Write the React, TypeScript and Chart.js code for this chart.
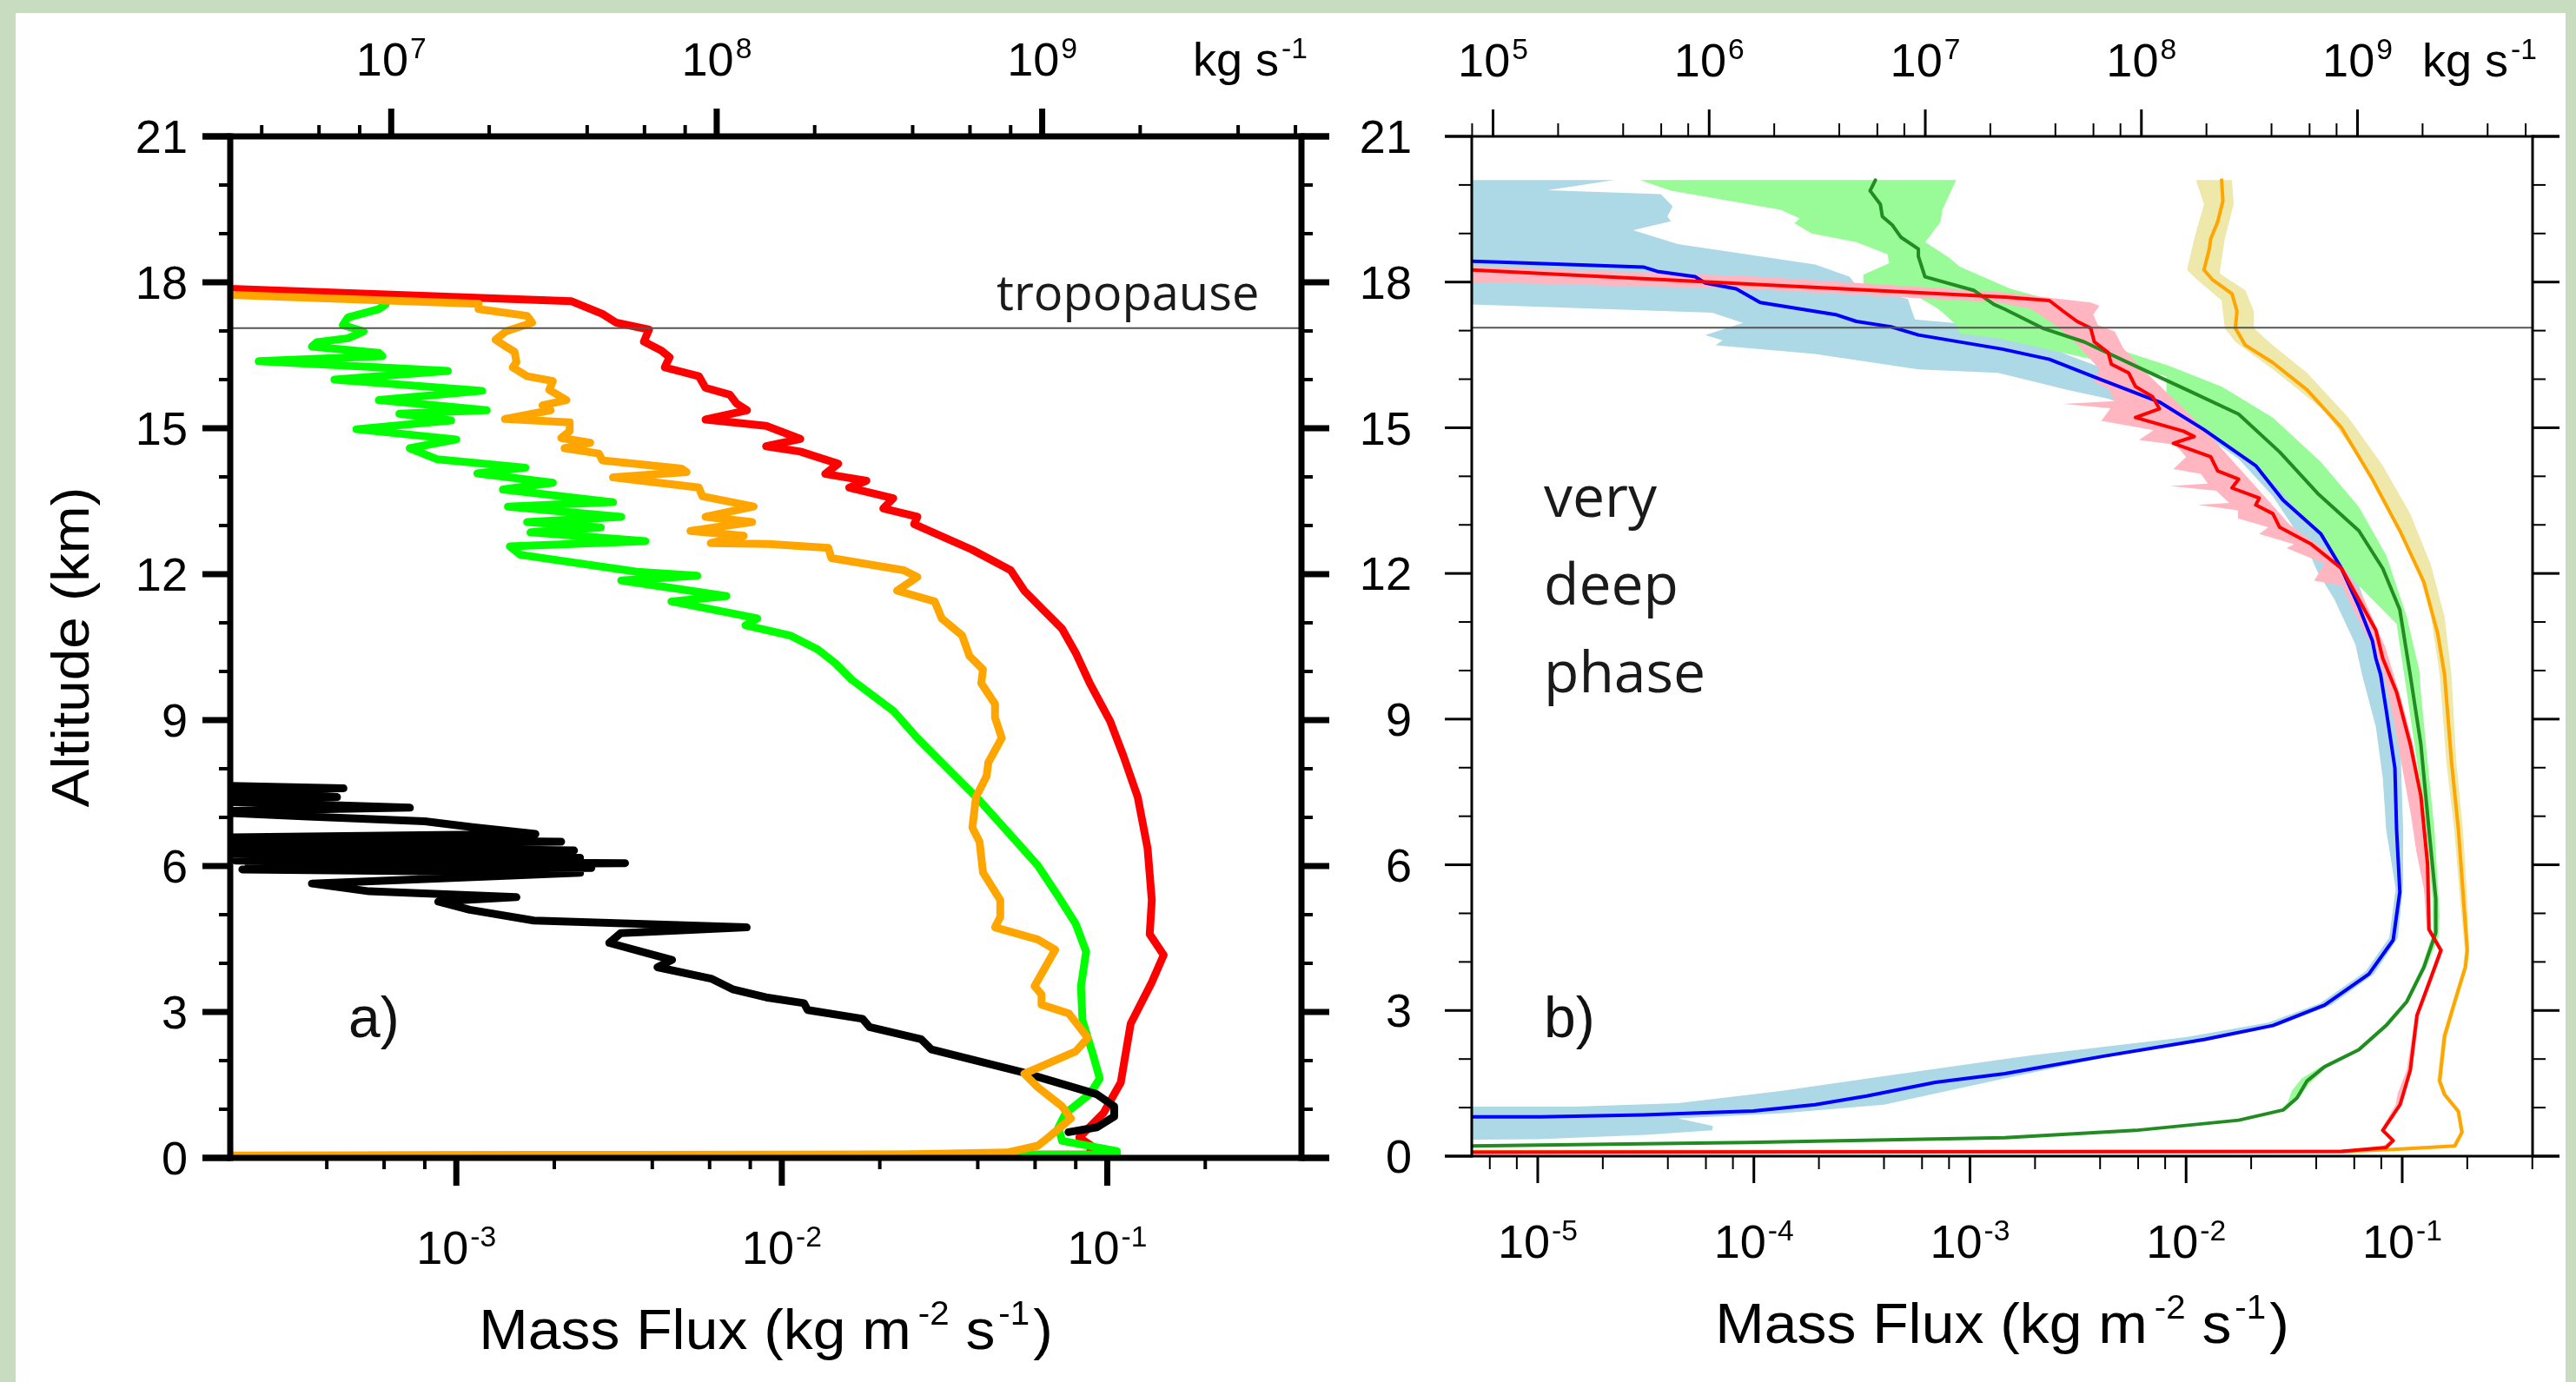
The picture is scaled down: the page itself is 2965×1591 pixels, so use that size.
import React, { useEffect, useRef } from 'react';
import { Chart, registerables } from 'chart.js';

Chart.register(...registerables);

type P = [number, number]; // [altitude (km), mass flux (kg m-2 s-1)]

// ---------------- ticks ----------------
const altitudeTicks = [0, 3, 6, 9, 12, 15, 18, 21];
const fluxTicksA = [1e-3, 1e-2, 1e-1];
const rateTicksA = [1e7, 1e8, 1e9];
const fluxTicksB = [1e-5, 1e-4, 1e-3, 1e-2, 1e-1];
const rateTicksB = [1e5, 1e6, 1e7, 1e8, 1e9];
const tropopauseKm = 17.06;

// ---------------- panel a ----------------
const aRed: P[] = [
  [17.90, 1.5e-4], [17.61, 2.26e-3], [17.35, 2.81e-3], [17.17, 3.10e-3], [17.03, 3.91e-3], [16.78, 3.77e-3],
  [16.60, 4.26e-3], [16.46, 4.52e-3], [16.25, 4.37e-3], [16.07, 5.56e-3], [15.83, 5.83e-3], [15.69, 6.92e-3],
  [15.51, 7.26e-3], [15.37, 7.82e-3], [15.18, 5.83e-3], [15.05, 8.95e-3], [14.78, 1.14e-2], [14.63, 8.95e-3],
  [14.52, 1.14e-2], [14.27, 1.49e-2], [14.06, 1.36e-2], [13.92, 1.82e-2], [13.78, 1.61e-2], [13.56, 2.20e-2],
  [13.35, 2.05e-2], [13.18, 2.61e-2], [13.03, 2.55e-2], [12.50, 3.85e-2], [12.08, 5.05e-2], [11.66, 5.56e-2],
  [11.30, 6.28e-2], [10.88, 7.26e-2], [10.38, 8.00e-2], [9.76, 8.83e-2], [8.98, 0.102], [8.27, 0.112],
  [7.42, 0.124], [6.36, 0.133], [5.30, 0.137], [4.60, 0.135], [4.17, 0.149], [3.61, 0.137], [2.76, 0.118],
  [1.55, 0.110], [0.92, 9.73e-2], [0.42, 8.20e-2], [0.25, 8.93e-2], [0.07, 8.83e-2], [0.04, 1.5e-4],
];
const aOrange: P[] = [
  [17.77, 1.5e-4], [17.56, 1.17e-3], [17.45, 1.17e-3], [17.31, 1.65e-3], [17.17, 1.71e-3], [16.99, 1.42e-3],
  [16.82, 1.32e-3], [16.68, 1.42e-3], [16.57, 1.51e-3], [16.36, 1.53e-3], [16.25, 1.49e-3], [16.07, 1.65e-3],
  [15.97, 1.98e-3], [15.79, 1.93e-3], [15.58, 2.18e-3], [15.47, 1.84e-3], [15.37, 1.95e-3], [15.19, 1.41e-3],
  [15.12, 2.23e-3], [14.94, 2.23e-3], [14.80, 2.10e-3], [14.70, 2.58e-3], [14.59, 2.15e-3], [14.48, 2.74e-3],
  [14.34, 2.81e-3], [14.17, 4.92e-3], [14.10, 5.10e-3], [13.99, 3.03e-3], [13.78, 5.56e-3], [13.60, 5.70e-3],
  [13.39, 8.20e-3], [13.18, 5.83e-3], [13.07, 8.11e-3], [12.89, 5.24e-3], [12.79, 7.64e-3], [12.64, 6.05e-3],
  [12.62, 9.1e-3], [12.54, 1.39e-2], [12.33, 1.42e-2], [12.08, 2.37e-2], [11.94, 2.61e-2], [11.66, 2.26e-2],
  [11.44, 2.95e-2], [11.09, 3.10e-2], [10.74, 3.58e-2], [10.32, 3.77e-2], [10.04, 4.15e-2], [9.76, 4.10e-2],
  [9.33, 4.52e-2], [9.05, 4.52e-2], [8.63, 4.74e-2], [8.13, 4.31e-2], [7.85, 4.26e-2], [7.42, 3.95e-2],
  [6.79, 3.85e-2], [6.50, 4.05e-2], [5.87, 4.15e-2], [5.30, 4.69e-2], [4.95, 4.69e-2], [4.74, 4.52e-2],
  [4.49, 6.12e-2], [4.28, 6.92e-2], [3.53, 5.98e-2], [3.36, 6.28e-2], [3.15, 6.28e-2], [2.97, 7.62e-2],
  [2.47, 8.71e-2], [2.19, 8.00e-2], [1.73, 5.56e-2], [1.45, 6.12e-2], [1.06, 7.26e-2], [0.81, 7.73e-2],
  [0.42, 6.59e-2], [0.25, 6.12e-2], [0.11, 4.92e-2], [0.07, 2.37e-2], [0.05, 1.5e-4],
];
const aGreen: P[] = [
  [17.55, 6.07e-4], [17.45, 5.78e-4], [17.28, 4.65e-4], [17.12, 4.48e-4], [16.99, 5.19e-4], [16.85, 4.65e-4],
  [16.77, 3.73e-4], [16.68, 3.60e-4], [16.55, 5.78e-4], [16.48, 5.93e-4], [16.38, 2.47e-4], [16.18, 9.42e-4],
  [16.00, 4.22e-4], [15.77, 1.20e-3], [15.58, 5.78e-4], [15.37, 1.24e-3], [15.30, 6.68e-4], [15.16, 9.64e-4],
  [14.98, 4.93e-4], [14.77, 1.0e-3], [14.59, 7.19e-4], [14.36, 8.75e-4], [14.19, 1.63e-3], [14.07, 1.16e-3],
  [13.88, 1.98e-3], [13.74, 1.39e-3], [13.48, 3.03e-3], [13.39, 1.44e-3], [13.18, 3.21e-3], [13.07, 1.65e-3],
  [12.96, 2.78e-3], [12.86, 1.69e-3], [12.68, 3.81e-3], [12.57, 1.46e-3], [12.40, 1.57e-3], [12.05, 3.59e-3],
  [11.97, 5.50e-3], [11.87, 3.21e-3], [11.55, 6.76e-3], [11.44, 4.58e-3], [11.09, 8.41e-3], [10.95, 7.73e-3],
  [10.74, 1.06e-2], [10.45, 1.29e-2], [10.17, 1.46e-2], [9.83, 1.64e-2], [9.19, 2.20e-2], [8.63, 2.61e-2],
  [7.99, 3.25e-2], [7.35, 4.05e-2], [6.72, 4.92e-2], [6.01, 6.12e-2], [5.37, 7.08e-2], [4.81, 8.00e-2],
  [4.24, 8.61e-2], [3.53, 8.30e-2], [2.83, 8.39e-2], [2.12, 9.04e-2], [1.63, 9.48e-2], [1.31, 8.83e-2],
  [0.92, 7.45e-2], [0.63, 7.08e-2], [0.35, 7.26e-2], [0.14, 0.107], [0.07, 0.107], [0.04, 1.5e-4],
];
const aBlack: P[] = [
  [7.66, 1.6e-4], [7.60, 4.5e-4], [7.54, 1.6e-4], [7.42, 4.3e-4], [7.34, 1.6e-4], [7.20, 7.2e-4],
  [7.12, 1.6e-4], [7.02, 3.5e-4], [6.92, 8.0e-4], [6.80, 1.12e-3], [6.66, 1.75e-3], [6.58, 1.6e-4],
  [6.50, 2.1e-3], [6.42, 1.6e-4], [6.32, 2.3e-3], [6.25, 1.7e-4], [6.17, 2.4e-3], [6.11, 2.1e-4],
  [6.06, 3.3e-3], [6.01, 2.3e-4], [5.96, 2.6e-3], [5.93, 2.2e-4], [5.86, 2.4e-3], [5.64, 3.6e-4],
  [5.48, 5.4e-4], [5.36, 1.53e-3], [5.27, 8.8e-4], [5.10, 1.1e-3], [4.88, 1.73e-3], [4.74, 7.8e-3],
  [4.62, 3.2e-3], [4.42, 2.95e-3], [4.07, 4.6e-3], [3.92, 4.15e-3], [3.68, 6.1e-3], [3.46, 7.1e-3],
  [3.30, 8.95e-3], [3.18, 1.17e-2], [3.04, 1.20e-2], [2.86, 1.77e-2], [2.69, 1.86e-2], [2.44, 2.68e-2],
  [2.23, 2.88e-2], [1.77, 5.42e-2], [1.31, 9.27e-2], [1.06, 0.105], [0.85, 0.105], [0.63, 9.3e-2],
  [0.53, 7.6e-2],
];

// ---------------- panel b ----------------
const bBlue: P[] = [
  [18.46, 3e-6], [18.41, 6.64e-6], [18.31, 3.08e-5], [18.22, 3.57e-5], [18.11, 5.35e-5], [17.98, 5.96e-5],
  [17.86, 8.28e-5], [17.58, 1.07e-4], [17.33, 2.39e-4], [17.19, 2.98e-4], [17.08, 4.30e-4], [16.91, 5.77e-4],
  [16.62, 1.41e-3], [16.41, 2.33e-3], [15.99, 4.05e-3], [15.53, 7.53e-3], [14.96, 1.21e-2], [14.22, 2.10e-2],
  [13.51, 2.81e-2], [12.81, 4.21e-2], [12.10, 5.24e-2], [11.32, 6.30e-2], [10.61, 7.28e-2], [10.25, 7.55e-2],
  [9.92, 7.94e-2], [9.19, 8.43e-2], [7.99, 9.25e-2], [6.72, 9.42e-2], [5.44, 9.75e-2], [4.45, 9.08e-2],
  [3.75, 7.01e-2], [3.11, 4.37e-2], [2.69, 2.52e-2], [2.40, 1.21e-2], [2.05, 4.05e-3], [1.70, 1.45e-3],
  [1.52, 6.92e-4], [1.24, 3.33e-4], [1.06, 1.92e-4], [0.93, 9.95e-5], [0.85, 3.08e-5], [0.81, 1.03e-5],
  [0.81, 3e-6],
];
const bBlueBandOuter: P[] = [
  [20.1, 3e-6], [20.1, 2.26e-5], [19.89, 1.11e-5], [19.81, 3.71e-5], [19.56, 4.21e-5], [19.35, 3.98e-5],
  [19.25, 4.13e-5], [19.07, 2.76e-5], [18.78, 4.45e-5], [18.36, 1.92e-4], [18.11, 2.77e-4], [17.93, 2.98e-4],
  [17.65, 5.16e-4], [17.23, 5.56e-4], [17.05, 1.54e-3], [16.5, 2.82e-3], [16.0, 5.62e-3], [15.5, 1.0e-2],
  [15.0, 1.66e-2], [14.5, 2.51e-2], [14.0, 3.16e-2], [13.0, 4.68e-2], [12.0, 6.03e-2], [11.0, 7.24e-2],
  [10.0, 8.32e-2], [8.84, 9.75e-2], [6.72, 0.101], [5.58, 0.101], [4.5, 9.55e-2], [3.75, 7.41e-2],
  [3.11, 4.68e-2], [2.69, 2.69e-2], [2.40, 1.32e-2], [2.05, 4.37e-3], [1.60, 1.45e-3], [1.06, 4.0e-4],
  [0.88, 1.33e-4], [0.78, 4.45e-5], [0.62, 6.46e-5], [0.53, 6.41e-5], [0.44, 3.16e-5], [0.35, 1.0e-5],
  [0.33, 3e-6],
];
const bBlueBandInner: P[] = [
  [1.02, 3e-6], [1.02, 1.48e-5], [1.09, 4.45e-5], [1.34, 1.33e-4], [1.63, 3.72e-4], [1.98, 1.35e-3],
  [2.08, 1.95e-3], [2.45, 1.0e-2], [2.75, 2.40e-2], [3.15, 4.17e-2], [3.80, 6.76e-2], [4.50, 8.71e-2],
  [5.50, 9.33e-2], [6.72, 8.43e-2], [7.78, 8.13e-2], [8.84, 7.55e-2], [9.90, 6.53e-2], [10.54, 6.07e-2],
  [11.46, 4.86e-2], [12.03, 4.06e-2], [12.52, 3.63e-2], [13.59, 2.52e-2], [14.36, 1.75e-2], [14.86, 1.21e-2],
  [15.60, 4.36e-3], [15.78, 2.81e-3], [16.13, 1.35e-3], [16.20, 5.77e-4], [16.52, 1.92e-4], [16.70, 6.65e-5],
  [16.80, 7.16e-5], [16.91, 5.96e-5], [17.16, 8.91e-5], [17.37, 6.41e-5], [17.57, 3e-6],
];
const bRed: P[] = [
  [18.30, 3e-6], [17.69, 1.45e-3], [17.62, 2.33e-3], [17.40, 2.70e-3], [17.19, 3.13e-3], [17.05, 3.62e-3],
  [16.77, 3.76e-3], [16.55, 4.36e-3], [16.31, 4.51e-3], [16.13, 5.42e-3], [15.85, 5.83e-3], [15.64, 7.0e-3],
  [15.39, 7.53e-3], [15.21, 5.83e-3], [14.93, 9.72e-3], [14.82, 1.09e-2], [14.68, 8.73e-3], [14.40, 1.30e-2],
  [14.11, 1.40e-2], [13.94, 1.75e-2], [13.76, 1.63e-2], [13.55, 2.18e-2], [13.41, 2.10e-2], [13.23, 2.52e-2],
  [12.95, 2.71e-2], [12.60, 3.80e-2], [12.10, 5.24e-2], [11.46, 6.30e-2], [10.83, 7.55e-2], [10.25, 8.13e-2],
  [9.55, 9.42e-2], [8.48, 0.109], [7.42, 0.122], [6.01, 0.131], [4.67, 0.133], [4.24, 0.151], [3.68, 0.136],
  [2.90, 0.117], [1.77, 0.109], [1.06, 9.77e-2], [0.53, 8.13e-2], [0.32, 9.08e-2], [0.18, 8.43e-2],
  [0.10, 5.25e-2], [0.08, 3e-6],
];
const bPinkOuter: P[] = [
  [18.36, 3e-6], [18.33, 4.95e-6], [18.11, 1.03e-4], [17.80, 1.35e-3], [17.58, 3.62e-3], [17.51, 3.97e-3],
  [17.33, 3.72e-3], [17.12, 3.90e-3], [16.98, 4.68e-3], [16.63, 5.13e-3], [16.2, 6.31e-3], [15.6, 8.71e-3],
  [15.0, 1.20e-2], [14.4, 1.58e-2], [13.8, 2.09e-2], [13.0, 3.02e-2], [12.3, 5.01e-2], [11.5, 6.61e-2],
  [10.5, 8.32e-2], [9.5, 9.77e-2], [8.5, 0.112], [7.4, 0.124], [6.0, 0.134], [4.67, 0.136], [4.24, 0.155],
  [3.68, 0.139], [2.90, 0.120], [1.77, 0.111], [1.06, 0.100], [0.53, 8.32e-2], [0.32, 9.29e-2],
  [0.18, 8.63e-2], [0.07, 5.01e-2], [0.06, 3e-6],
];
const bPinkInner: P[] = [
  [0.11, 3e-6], [0.13, 5.25e-2], [0.2, 8.13e-2], [0.33, 8.81e-2], [0.53, 7.94e-2], [1.06, 9.33e-2],
  [1.30, 9.55e-2], [1.77, 0.105], [2.90, 0.115], [3.68, 0.133], [4.24, 0.148], [4.67, 0.130], [5.5, 0.126],
  [6.3, 0.116], [7.0, 0.110], [8.0, 0.100], [9.0, 9.12e-2], [10.0, 8.13e-2], [10.6, 7.08e-2], [11.2, 6.03e-2],
  [11.75, 5.25e-2], [11.85, 3.91e-2], [12.2, 4.37e-2], [12.52, 2.92e-2], [12.60, 3.16e-2], [12.81, 2.18e-2],
  [12.95, 2.40e-2], [13.13, 1.75e-2], [13.30, 1.74e-2], [13.41, 1.13e-2], [13.45, 1.58e-2], [13.70, 1.38e-2],
  [13.80, 8.41e-3], [13.85, 1.26e-2], [14.05, 1.17e-2], [14.15, 8.73e-3], [14.40, 1.0e-2], [14.65, 8.91e-3],
  [14.75, 6.05e-3], [14.95, 7.08e-3], [15.14, 4.05e-3], [15.40, 4.47e-3], [15.49, 2.70e-3], [15.55, 4.68e-3],
  [15.80, 4.37e-3], [15.95, 3.72e-3], [16.2, 3.98e-3], [16.7, 3.16e-3], [17.1, 2.51e-3], [17.45, 1.91e-3],
  [17.58, 1.35e-3], [17.85, 1.0e-4], [18.0, 4.9e-6], [18.02, 3e-6],
];
const bGreen: P[] = [
  [20.10, 3.65e-4], [19.88, 3.45e-4], [19.60, 3.85e-4], [19.35, 3.93e-4], [19.17, 4.38e-4], [18.92, 4.80e-4],
  [18.68, 5.77e-4], [18.53, 5.77e-4], [18.11, 6.19e-4], [17.83, 1.04e-3], [17.54, 1.29e-3], [17.44, 1.45e-3],
  [17.05, 2.17e-3], [16.77, 3.37e-3], [16.27, 5.83e-3], [15.78, 1.01e-2], [15.28, 1.75e-2], [14.50, 2.71e-2],
  [13.65, 4.06e-2], [12.88, 6.30e-2], [12.10, 8.13e-2], [11.25, 9.75e-2], [9.90, 0.109], [8.48, 0.122],
  [6.72, 0.133], [5.30, 0.143], [4.60, 0.143], [3.89, 0.126], [3.18, 0.105], [2.69, 8.43e-2], [2.19, 6.30e-2],
  [1.84, 4.37e-2], [1.55, 3.63e-2], [1.20, 3.26e-2], [0.95, 2.81e-2], [0.74, 1.75e-2], [0.53, 5.83e-3],
  [0.38, 1.45e-3], [0.28, 9.25e-5], [0.21, 4.9e-6], [0.21, 3e-6],
];
const bGreenBandOuter: P[] = [
  [20.1, 8.63e-4], [19.49, 7.45e-4], [19.24, 7.31e-4], [18.82, 6.21e-4], [18.50, 8.02e-4], [18.32, 8.93e-4],
  [17.86, 1.54e-3], [17.6, 2.51e-3], [17.2, 3.55e-3], [16.59, 5.04e-3], [16.27, 8.41e-3], [15.85, 1.46e-2],
  [15.21, 2.52e-2], [14.29, 4.21e-2], [13.37, 6.30e-2], [12.38, 8.43e-2], [11.11, 0.105], [10.0, 0.120],
  [9.55, 0.122], [8.13, 0.131], [6.72, 0.141], [4.95, 0.149], [4.5, 0.147], [3.89, 0.129], [3.18, 0.107],
  [2.69, 8.63e-2], [2.19, 6.46e-2], [1.84, 4.47e-2], [1.5, 3.72e-2], [1.2, 3.33e-2], [0.95, 2.88e-2],
  [0.72, 1.75e-2], [0.51, 5.83e-3], [0.36, 1.45e-3], [0.26, 9.25e-5], [0.19, 3e-6],
];
const bGreenBandInner: P[] = [
  [0.23, 3e-6], [0.30, 9.25e-5], [0.40, 1.45e-3], [0.55, 5.83e-3], [0.76, 1.75e-2], [0.97, 2.75e-2],
  [1.1, 2.95e-2], [1.35, 3.09e-2], [1.6, 3.43e-2], [1.86, 4.27e-2], [2.21, 6.15e-2], [2.71, 8.24e-2],
  [3.2, 0.103], [3.9, 0.123], [4.6, 0.139], [5.30, 0.138], [6.72, 0.129], [8.13, 0.117], [9.55, 0.105],
  [10.96, 9.42e-2], [11.82, 6.07e-2], [12.74, 4.21e-2], [13.73, 2.71e-2], [14.50, 1.75e-2], [15.21, 1.05e-2],
  [15.64, 8.11e-3], [16.06, 8.11e-3], [16.48, 3.13e-3], [16.84, 1.35e-3], [16.94, 8.93e-4], [17.12, 8.63e-4],
  [17.44, 7.18e-4], [17.69, 5.77e-4], [17.97, 3.21e-4], [18.15, 3.21e-4], [18.39, 4.23e-4], [18.57, 4.15e-4],
  [18.82, 2.98e-4], [19.0, 1.85e-4], [19.21, 1.54e-4], [19.31, 1.63e-4], [19.49, 1.33e-4], [19.88, 4.13e-5],
  [20.1, 2.97e-5],
];
const bOrange: P[] = [
  [20.1, 1.46e-2], [19.67, 1.48e-2], [19.24, 1.40e-2], [18.89, 1.30e-2], [18.68, 1.28e-2], [18.25, 1.21e-2],
  [18.04, 1.33e-2], [17.76, 1.63e-2], [17.40, 1.72e-2], [17.05, 1.69e-2], [16.70, 1.88e-2], [16.34, 2.52e-2],
  [15.78, 3.63e-2], [15.0, 5.24e-2], [13.94, 7.28e-2], [12.88, 9.75e-2], [11.82, 0.126], [10.76, 0.146],
  [9.92, 0.157], [8.13, 0.169], [6.72, 0.182], [5.30, 0.192], [4.24, 0.200], [3.89, 0.196], [3.18, 0.175],
  [2.47, 0.157], [1.55, 0.149], [1.27, 0.157], [0.92, 0.182], [0.49, 0.189], [0.21, 0.175], [0.14, 9.08e-2],
  [0.10, 5.25e-2], [0.09, 3e-6],
];
const bKhakiOuter: P[] = [
  [20.1, 1.63e-2], [19.6, 1.66e-2], [18.89, 1.51e-2], [18.18, 1.43e-2], [17.83, 1.88e-2], [17.40, 2.06e-2],
  [17.05, 2.06e-2], [16.70, 2.52e-2], [16.13, 3.63e-2], [15.21, 5.64e-2], [14.22, 8.13e-2], [13.23, 0.109],
  [12.17, 0.136], [11.11, 0.157], [9.92, 0.169], [8.13, 0.178], [6.72, 0.191], [5.30, 0.200], [4.24, 0.204],
  [3.89, 0.200], [3.18, 0.179], [2.47, 0.161], [1.55, 0.152], [1.27, 0.161], [0.92, 0.186], [0.49, 0.193],
  [0.21, 0.179], [0.12, 9.08e-2], [0.09, 5.25e-2],
];
const bKhakiInner: P[] = [
  [0.11, 5.25e-2], [0.16, 9.08e-2], [0.23, 0.171], [0.49, 0.185], [0.92, 0.178], [1.27, 0.153], [1.55, 0.145],
  [2.47, 0.153], [3.18, 0.171], [3.89, 0.191], [4.24, 0.195], [5.30, 0.185], [6.72, 0.174], [8.13, 0.160],
  [9.92, 0.149], [11.11, 0.136], [12.17, 0.117], [13.23, 9.08e-2], [14.29, 6.53e-2], [15.35, 4.37e-2],
  [16.20, 2.52e-2], [16.77, 1.69e-2], [17.05, 1.51e-2], [17.62, 1.46e-2], [18.04, 1.13e-2], [18.25, 1.01e-2],
  [18.89, 1.09e-2], [19.6, 1.21e-2], [20.1, 1.11e-2],
];

// ---------------- layout / style ----------------
const W = 2965;
const H = 1591;
const NCL = '"Liberation Sans", Arial, Helvetica, sans-serif';
const SANS = '"Open Sans", "Noto Sans", sans-serif';
const SX = 1.02;

interface Run { t: string; size: number; raise?: number; dx?: number }
interface Note { runs: Run[]; x: number; y: number; family: string; sx: number; color: string; rotate?: boolean; align: 'left' | 'center' | 'right' }
interface Panel {
  area: { left: number; right: number; top: number; bottom: number };
  xMin: number; xMax: number; rate: number;
  frameW: number; majLen: number; minLen: number; majW: number; minW: number;
  yLabelRight: number; topBase: number; botBase: number; unitRight: number;
  fluxTicks: number[]; rateTicks: number[];
  tf: number; sf: number; sr: number;
  notes: Note[];
}

function drawRuns(ctx: CanvasRenderingContext2D, runs: Run[], x: number, y: number, align: 'left' | 'center' | 'right', family: string, sx: number) {
  const widths = runs.map((r) => {
    ctx.font = `${r.size}px ${family}`;
    return ctx.measureText(r.t).width * sx + (r.dx || 0);
  });
  const total = widths.reduce((a, b) => a + b, 0);
  let cx = align === 'left' ? x : align === 'center' ? x - total / 2 : x - total;
  ctx.textAlign = 'left';
  ctx.textBaseline = 'alphabetic';
  runs.forEach((r, i) => {
    ctx.font = `${r.size}px ${family}`;
    ctx.save();
    ctx.translate(cx + (r.dx || 0), y - (r.raise || 0));
    ctx.scale(sx, 1);
    ctx.fillText(r.t, 0, 0);
    ctx.restore();
    cx += widths[i];
  });
}

function minorLog(min: number, max: number) {
  const out: number[] = [];
  for (let k = Math.floor(Math.log10(min)); k <= Math.ceil(Math.log10(max)); k++) {
    for (const m of [2, 4, 6, 8]) {
      const v = m * Math.pow(10, k);
      if (v > min * 1.002 && v < max * 0.998) out.push(v);
    }
  }
  return out;
}

function makeAxesPlugin(p: Panel) {
  return {
    id: 'nclAxes',
    afterDatasetsDraw(chart: any) {
      const ctx: CanvasRenderingContext2D = chart.ctx;
      const { left, right, top, bottom } = chart.chartArea;
      const xs = chart.scales.x;
      const xt = chart.scales.xTop;
      const ys = chart.scales.y;
      ctx.save();
      ctx.strokeStyle = '#000';
      ctx.fillStyle = '#000';
      ctx.lineCap = 'butt';
      const seg = (x1: number, y1: number, x2: number, y2: number, w: number) => {
        ctx.lineWidth = w;
        ctx.beginPath();
        ctx.moveTo(x1, y1);
        ctx.lineTo(x2, y2);
        ctx.stroke();
      };
      // frame
      seg(left - p.majLen, top, right + p.majLen, top, p.frameW);
      seg(left - p.majLen, bottom, right + p.majLen, bottom, p.frameW);
      seg(left, top - p.frameW / 2, left, bottom + p.frameW / 2, p.frameW);
      seg(right, top - p.frameW / 2, right, bottom + p.frameW / 2, p.frameW);
      // y ticks
      for (let v = 0; v <= 21; v++) {
        const py = ys.getPixelForValue(v);
        const major = altitudeTicks.includes(v);
        const len = major ? p.majLen : p.minLen;
        const w = major ? p.majW : p.minW;
        seg(left, py, left - len, py, w);
        seg(right, py, right + len, py, w);
      }
      for (const v of altitudeTicks) {
        const py = ys.getPixelForValue(v);
        drawRuns(ctx, [{ t: String(v), size: p.tf }], p.yLabelRight, py + 0.36 * p.tf, 'right', NCL, SX);
      }
      // bottom ticks
      for (const v of minorLog(xs.min, xs.max)) {
        const px = xs.getPixelForValue(v);
        seg(px, bottom, px, bottom + p.minLen, p.minW);
      }
      for (const v of p.fluxTicks) {
        const px = xs.getPixelForValue(v);
        seg(px, bottom, px, bottom + p.majLen, p.majW);
        drawRuns(ctx, [{ t: '10', size: p.tf }, { t: String(Math.round(Math.log10(v))), size: p.sf, raise: p.sr, dx: 2 }], px, p.botBase, 'center', NCL, SX);
      }
      // top ticks
      for (const v of minorLog(xt.min, xt.max)) {
        const px = xt.getPixelForValue(v);
        seg(px, top, px, top - p.minLen, p.minW);
      }
      for (const v of p.rateTicks) {
        const px = xt.getPixelForValue(v);
        seg(px, top, px, top - p.majLen, p.majW);
        drawRuns(ctx, [{ t: '10', size: p.tf }, { t: String(Math.round(Math.log10(v))), size: p.sf, raise: p.sr, dx: 2 }], px, p.topBase, 'center', NCL, SX);
      }
      drawRuns(ctx, [{ t: 'kg s', size: p.tf }, { t: '-1', size: p.sf, raise: p.sr, dx: 3 }], p.unitRight, p.topBase, 'right', NCL, SX);
      // notes
      for (const n of p.notes) {
        ctx.fillStyle = n.color;
        if (n.rotate) {
          ctx.save();
          ctx.translate(n.x, n.y);
          ctx.rotate(-Math.PI / 2);
          drawRuns(ctx, n.runs, 0, 0, n.align, n.family, n.sx);
          ctx.restore();
        } else {
          drawRuns(ctx, n.runs, n.x, n.y, n.align, n.family, n.sx);
        }
      }
      ctx.restore();
    },
  };
}

const titleRuns: Run[] = [
  { t: 'Mass Flux (kg m', size: 64 },
  { t: '-2', size: 38, raise: 28, dx: 8 },
  { t: ' s', size: 64 },
  { t: '-1', size: 38, raise: 28, dx: 4 },
  { t: ')', size: 64, dx: 4 },
];

const panelA: Panel = {
  area: { left: 265, right: 1498, top: 157, bottom: 1333 },
  xMin: 2.02e-4, xMax: 0.395, rate: 1.585e10,
  frameW: 7, majLen: 32, minLen: 13, majW: 7, minW: 4,
  yLabelRight: 216, topBase: 87, botBase: 1455, unitRight: 1505,
  fluxTicks: fluxTicksA, rateTicks: rateTicksA,
  tf: 53, sf: 33, sr: 20,
  notes: [
    { runs: [{ t: 'Altitude (km)', size: 62 }], x: 102, y: 745, family: NCL, sx: 1.06, color: '#000', rotate: true, align: 'center' },
    { runs: titleRuns, x: 881.5, y: 1553, family: NCL, sx: 1.06, color: '#000', align: 'center' },
    { runs: [{ t: 'a)', size: 66 }], x: 401, y: 1194, family: NCL, sx: 1.0, color: '#111', align: 'left' },
    { runs: [{ t: 'tropopause', size: 56 }], x: 1147, y: 357, family: SANS, sx: 1.0, color: '#1a1a1a', align: 'left' },
  ],
};

const panelB: Panel = {
  area: { left: 1694, right: 2915, top: 157, bottom: 1331 },
  xMin: 4.95e-6, xMax: 0.401, rate: 1.61e10,
  frameW: 3, majLen: 31, minLen: 15, majW: 3, minW: 2,
  yLabelRight: 1625, topBase: 88, botBase: 1448, unitRight: 2920,
  fluxTicks: fluxTicksB, rateTicks: rateTicksB,
  tf: 53, sf: 33, sr: 20,
  notes: [
    { runs: titleRuns, x: 2304.5, y: 1546, family: NCL, sx: 1.06, color: '#000', align: 'center' },
    { runs: [{ t: 'b)', size: 66 }], x: 1777, y: 1194, family: NCL, sx: 1.0, color: '#111', align: 'left' },
    { runs: [{ t: 'very', size: 66 }], x: 1777, y: 595, family: SANS, sx: 1.0, color: '#1a1a1a', align: 'left' },
    { runs: [{ t: 'deep', size: 66 }], x: 1777, y: 696, family: SANS, sx: 1.0, color: '#1a1a1a', align: 'left' },
    { runs: [{ t: 'phase', size: 66 }], x: 1777, y: 797, family: SANS, sx: 1.0, color: '#1a1a1a', align: 'left' },
  ],
};

const toXY = (arr: P[]) => arr.map(([alt, flux]) => ({ x: flux, y: alt }));

const lineDs = (label: string, arr: P[], color: string, width: number, order: number) => ({
  label,
  data: toXY(arr),
  borderColor: color,
  backgroundColor: color,
  borderWidth: width,
  pointRadius: 0,
  fill: false,
  tension: 0,
  order,
  borderCapStyle: 'round',
  borderJoinStyle: 'round',
});

const bandDs = (label: string, outer: P[], inner: P[], color: string, order: number) => ({
  label,
  data: toXY([...outer, ...inner]),
  borderColor: 'rgba(0,0,0,0)',
  backgroundColor: color,
  borderWidth: 0,
  pointRadius: 0,
  fill: 'shape',
  tension: 0,
  order,
});

const tropoDs = (p: Panel) => ({
  label: 'tropopause',
  data: [{ x: p.xMin, y: tropopauseKm }, { x: p.xMax, y: tropopauseKm }],
  borderColor: '#555555',
  borderWidth: 2,
  pointRadius: 0,
  fill: false,
  order: 0,
});

function makeConfig(p: Panel, datasets: any[]): any {
  return {
    type: 'line',
    data: { datasets },
    options: {
      responsive: false,
      maintainAspectRatio: false,
      animation: false,
      devicePixelRatio: 1,
      events: [],
      layout: { padding: { left: p.area.left, right: W - p.area.right, top: p.area.top, bottom: H - p.area.bottom } },
      scales: {
        x: { type: 'logarithmic', position: 'bottom', min: p.xMin, max: p.xMax, display: false, bounds: 'data' },
        xTop: { type: 'logarithmic', position: 'top', min: p.xMin * p.rate, max: p.xMax * p.rate, display: false, bounds: 'data' },
        y: { type: 'linear', min: 0, max: 21, display: false, bounds: 'data' },
      },
      plugins: { legend: { display: false }, tooltip: { enabled: false }, title: { display: false } },
    },
    plugins: [makeAxesPlugin(p)],
  };
}

export default function App() {
  const refA = useRef<HTMLCanvasElement>(null);
  const refB = useRef<HTMLCanvasElement>(null);

  useEffect(() => {
    const dsA = [
      tropoDs(panelA),
      lineDs('a orange', aOrange, '#ffa500', 9, 1),
      lineDs('a black', aBlack, '#000000', 9, 2),
      lineDs('a green', aGreen, '#00ff00', 9, 3),
      lineDs('a red', aRed, '#ff0000', 9, 4),
    ];
    const dsB = [
      tropoDs(panelB),
      lineDs('b red', bRed, '#ff0000', 4, 1),
      lineDs('b blue', bBlue, '#0000ff', 4, 2),
      lineDs('b green', bGreen, '#228b22', 4, 3),
      lineDs('b orange', bOrange, '#ffa500', 4, 4),
      bandDs('b khaki band', bKhakiOuter, bKhakiInner, '#eee8aa', 5),
      bandDs('b pink band', bPinkOuter, bPinkInner, '#ffb6c1', 6),
      bandDs('b green band', bGreenBandOuter, bGreenBandInner, '#98fb98', 7),
      bandDs('b blue band', bBlueBandOuter, bBlueBandInner, '#add8e6', 8),
    ];
    const a = new Chart(refA.current as HTMLCanvasElement, makeConfig(panelA, dsA));
    const b = new Chart(refB.current as HTMLCanvasElement, makeConfig(panelB, dsB));
    let alive = true;
    const fonts = (document as any).fonts;
    if (fonts && fonts.load) {
      Promise.all([fonts.load(`48px "Liberation Sans"`), fonts.load(`60px "Open Sans"`)])
        .then(() => {
          if (alive) {
            a.update();
            b.update();
          }
        })
        .catch(() => {});
    }
    return () => {
      alive = false;
      a.destroy();
      b.destroy();
    };
  }, []);

  const abs: React.CSSProperties = { position: 'absolute', left: 0, top: 0, width: W, height: H };
  return (
    <div style={{ position: 'fixed', left: 0, top: 0, width: W, height: H, background: '#c8dcc0', overflow: 'hidden' }}>
      <div style={{ position: 'absolute', left: 18, top: 15, right: 12, bottom: 0, background: '#ffffff' }} />
      <canvas ref={refA} width={W} height={H} style={abs} />
      <canvas ref={refB} width={W} height={H} style={abs} />
    </div>
  );
}
